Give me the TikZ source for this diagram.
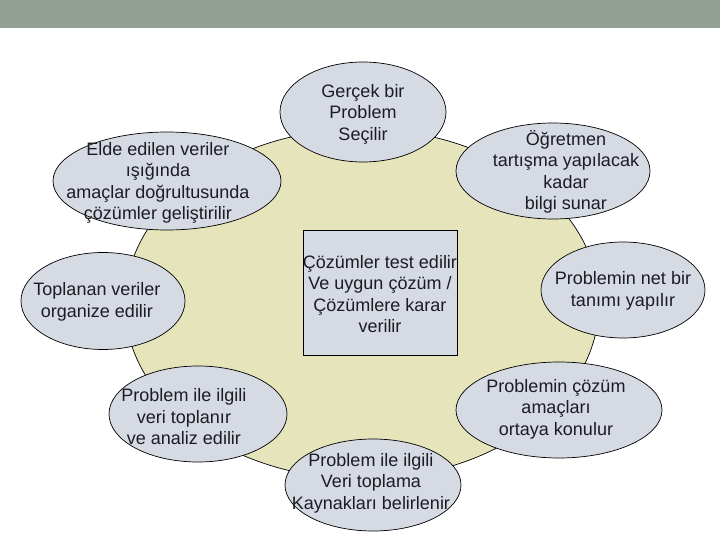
\documentclass[tikz,border=0pt]{standalone}
\usepackage{fontspec}
\setmainfont{Liberation Sans}
\usetikzlibrary{shapes.geometric}
\definecolor{band}{RGB}{146,160,149}
\definecolor{cream}{RGB}{230,228,186}
\definecolor{bubble}{RGB}{213,218,227}
\definecolor{ink}{RGB}{28,28,36}
\tikzset{
  bub/.style={ellipse,draw=black,line width=0.7pt,fill=bubble,inner sep=0pt},
  txt/.style={align=center,text=ink,font=\fontsize{18}{21.5}\selectfont,inner sep=0pt}
}
\begin{document}
\begin{tikzpicture}[x=1pt,y=-1pt]
\useasboundingbox (0,0) rectangle (720,540);
\fill[white] (0,0) rectangle (720,540);
\fill[band] (0,0) rectangle (720,28);
% big background ellipse
\node[ellipse,draw=black,line width=0.7pt,fill=cream,minimum width=474pt,minimum height=350pt,inner sep=0pt] (big) at (362,304) {};
% center rectangle
\node[draw=black,line width=0.8pt,fill=bubble,minimum width=154pt,minimum height=125pt,inner sep=0pt] (c) at (380,292.5) {};
% satellites
\node[bub,minimum width=166pt,minimum height=100pt] (e1) at (363,112) {};
\node[bub,minimum width=228pt,minimum height=98pt] (e2) at (167,181) {};
\node[bub,minimum width=194pt,minimum height=96pt] (e3) at (553,171) {};
\node[bub,minimum width=164pt,minimum height=97pt] (e4) at (103,301) {};
\node[bub,minimum width=164pt,minimum height=96pt] (e5) at (623,290) {};
\node[bub,minimum width=178pt,minimum height=96pt] (e6) at (198,414) {};
\node[bub,minimum width=206pt,minimum height=96pt] (e7) at (559,410) {};
\node[bub,minimum width=176pt,minimum height=92pt] (e8) at (373,485) {};
% texts
\node[txt] (tc) at (380,294) {Çözümler test edilir\\Ve uygun çözüm /\\Çözümlere karar\\verilir};
\node[txt] (t1) at (363,114) {Gerçek bir\\Problem\\Seçilir};
\node[txt] (t2) at (158,183) {Elde edilen veriler\\ışığında\\amaçlar doğrultusunda\\çözümler geliştirilir};
\node[txt] (t3) at (566,172) {Öğretmen\\tartışma yapılacak\\kadar\\bilgi sunar};
\node[txt] (t4) at (97,302) {Toplanan veriler\\organize edilir};
\node[txt] (t5) at (623,291) {Problemin net bir\\tanımı yapılır};
\node[txt] (t6) at (184,417) {Problem ile ilgili\\veri toplanır\\ve analiz edilir};
\node[txt] (t7) at (556,409) {Problemin çözüm\\amaçları\\ortaya konulur};
\node[txt] (t8) at (371,483) {Problem ile ilgili\\Veri toplama\\Kaynakları belirlenir};
\end{tikzpicture}
\end{document}
